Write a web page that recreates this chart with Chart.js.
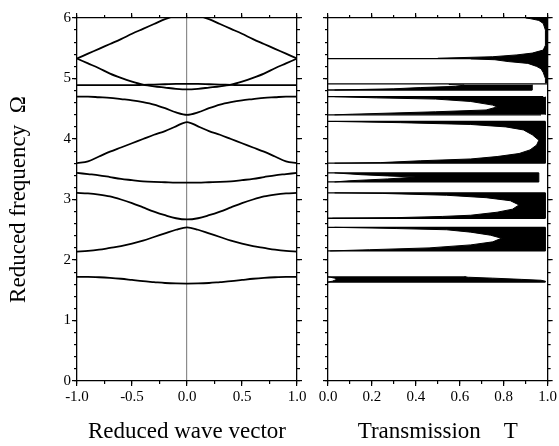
<!DOCTYPE html>
<html>
<head>
<meta charset="utf-8">
<script src="https://cdn.jsdelivr.net/npm/chart.js"></script>
<style>
  html, body { margin: 0; padding: 0; background: #fff; }
  #wrap { position: relative; width: 559px; height: 446px; }
  canvas { position: absolute; top: 0; }
  #bands { left: 0; }
  #trans { left: 312px; }
</style>
</head>
<body>
<div id="wrap">
  <canvas id="bands" width="312" height="446"></canvas>
  <canvas id="trans" width="247" height="446"></canvas>
</div>
<script>
// Reduced wave vector samples for the band structure
const kValues = [-1.0, -0.9, -0.8, -0.7, -0.6, -0.5, -0.4, -0.3, -0.2, -0.1, 0.0,
                 0.1, 0.2, 0.3, 0.4, 0.5, 0.6, 0.7, 0.8, 0.9, 1.0];

// Bands (reduced frequency), lowest first
const band1 = [1.72, 1.72, 1.715, 1.705, 1.69, 1.67, 1.65, 1.635, 1.62, 1.612, 1.61, 1.612, 1.62, 1.635, 1.65, 1.67, 1.69, 1.705, 1.715, 1.72, 1.72];
const band2 = [2.14, 2.15, 2.17, 2.20, 2.23, 2.27, 2.32, 2.38, 2.44, 2.50, 2.54, 2.50, 2.44, 2.38, 2.32, 2.27, 2.23, 2.20, 2.17, 2.15, 2.14];
const band3 = [3.11, 3.10, 3.08, 3.05, 3.00, 2.94, 2.87, 2.80, 2.74, 2.69, 2.67, 2.69, 2.74, 2.80, 2.87, 2.94, 3.00, 3.05, 3.08, 3.10, 3.11];
const band4 = [3.44, 3.42, 3.40, 3.37, 3.34, 3.32, 3.30, 3.29, 3.285, 3.28, 3.28, 3.28, 3.285, 3.29, 3.30, 3.32, 3.34, 3.37, 3.40, 3.42, 3.44];
const band5 = [3.60, 3.63, 3.71, 3.79, 3.86, 3.93, 4.00, 4.07, 4.13, 4.21, 4.28, 4.21, 4.13, 4.07, 4.00, 3.93, 3.86, 3.79, 3.71, 3.63, 3.60];
const band6 = [4.70, 4.70, 4.69, 4.68, 4.66, 4.64, 4.61, 4.57, 4.51, 4.44, 4.40, 4.44, 4.51, 4.57, 4.61, 4.64, 4.66, 4.68, 4.69, 4.70, 4.70];
const band7 = [4.89, 4.89, 4.89, 4.89, 4.89, 4.89, 4.895, 4.90, 4.905, 4.91, 4.91, 4.91, 4.905, 4.90, 4.895, 4.89, 4.89, 4.89, 4.89, 4.89, 4.89];
const band8 = [5.33, 5.25, 5.17, 5.08, 5.01, 4.95, 4.90, 4.87, 4.85, 4.83, 4.82, 4.83, 4.85, 4.87, 4.90, 4.95, 5.01, 5.08, 5.17, 5.25, 5.33];
const band9 = [5.33, 5.41, 5.49, 5.57, 5.65, 5.74, 5.82, 5.90, 5.98, 6.04, 6.07, 6.04, 5.98, 5.90, 5.82, 5.74, 5.65, 5.57, 5.49, 5.41, 5.33];
const bandSeries = [band1, band2, band3, band4, band5, band6, band7, band8, band9];

// Transmission: the fast oscillations fill the space between transLow and transHigh
// null = stop band (T = 0)
const transOmega = [
  1.635, 1.65, 1.665, 1.68, 1.70, 1.715, 1.72, 1.90,
  2.15, 2.17, 2.20, 2.25, 2.30, 2.36, 2.41, 2.46, 2.50, 2.52, 2.54, 2.60,
  2.69, 2.70, 2.72, 2.74, 2.79, 2.84, 2.91, 2.98, 3.03, 3.07, 3.10, 3.11, 3.20,
  3.29, 3.31, 3.34, 3.37, 3.39, 3.41, 3.44, 3.50,
  3.60, 3.61, 3.64, 3.67, 3.71, 3.76, 3.82, 3.90, 3.98, 4.07, 4.15, 4.20, 4.24, 4.27, 4.29, 4.35,
  4.40, 4.41, 4.45, 4.48, 4.53, 4.56, 4.62, 4.66, 4.68, 4.70, 4.76,
  4.81, 4.83, 4.85, 4.87, 4.89, 4.90, 4.905,
  4.92, 5.00, 5.10, 5.16, 5.20, 5.25, 5.28, 5.31, 5.325, 5.33,
  5.335, 5.36, 5.39, 5.42, 5.47, 5.55, 5.80, 5.91, 5.96, 5.99, 6.00
];
const transLow = [
  0.00, 0.02, 0.03, 0.04, 0.03, 0.01, 0.00, null,
  0.01, 0.19, 0.46, 0.65, 0.75, 0.79, 0.74, 0.65, 0.54, 0.31, 0.03, null,
  0.02, 0.31, 0.52, 0.65, 0.77, 0.84, 0.87, 0.83, 0.72, 0.54, 0.25, 0.03, null,
  0.03, 0.10, 0.27, 0.40, 0.27, 0.15, 0.03, null,
  0.03, 0.24, 0.42, 0.65, 0.77, 0.87, 0.92, 0.95, 0.96, 0.93, 0.89, 0.81, 0.65, 0.33, 0.03, null,
  0.03, 0.11, 0.49, 0.72, 0.77, 0.75, 0.65, 0.49, 0.22, 0.03, null,
  0.03, 0.30, 0.42, 0.58, 0.62, 0.55, null,
  0.99, 0.99, 0.98, 0.97, 0.95, 0.91, 0.82, 0.76, 0.65, null,
  0.50, 0.75, 0.86, 0.93, 0.98, 0.99, 0.99, 0.98, 0.96, 0.92, 0.90
];
const transHigh = [
  0.99, 0.99, 0.97, 0.88, 0.75, 0.64, 0.62, null,
  0.99, 0.99, 0.99, 0.99, 0.99, 0.99, 0.99, 0.99, 0.99, 0.99, 0.99, null,
  0.99, 0.99, 0.99, 0.99, 0.99, 0.99, 0.99, 0.99, 0.99, 0.99, 0.99, 0.99, null,
  0.96, 0.96, 0.96, 0.96, 0.96, 0.96, 0.96, null,
  0.99, 0.99, 0.99, 0.99, 0.99, 0.99, 0.99, 0.99, 0.99, 0.99, 0.99, 0.99, 0.99, 0.99, 0.99, null,
  0.99, 0.99, 0.99, 0.99, 0.99, 0.99, 0.99, 0.99, 0.99, 0.99, null,
  0.93, 0.93, 0.93, 0.93, 0.93, 0.93, null,
  1.0, 1.0, 1.0, 1.0, 1.0, 1.0, 1.0, 1.0, 1.0, null,
  1.0, 1.0, 1.0, 1.0, 1.0, 1.0, 1.0, 1.0, 1.0, 1.0, 1.0
];

// Band edges: sharp resonances running across the transmission panel
const edgeOmega = [1.635, 1.72, 2.15, 2.54, 2.69, 3.11, 3.29, 3.44, 3.60, 4.29, 4.40, 4.70, 4.81, 4.91, 5.33];
const edgeReach = [0.99, 0.63, 0.99, 0.99, 0.99, 0.99, 0.96, 0.96, 0.99, 0.99, 0.97, 0.98, 0.93, 1.0, 1.0];

Chart.defaults.font.family = "'Liberation Serif', 'DejaVu Serif', serif";
Chart.defaults.color = '#000';

// frame axis: only tick marks, squeezed to zero thickness
function tickAxis(axis, position, min, max, step, length, weight, extra) {
    return Object.assign({
        type: 'linear',
        axis: axis,
        position: position,
        min: min,
        max: max,
        weight: weight,
        ticks: { display: false, stepSize: step },
        grid: { drawOnChartArea: false, drawTicks: true, tickLength: length, color: '#000', tickColor: '#000', lineWidth: 1.2 },
        border: { display: length > 3, color: '#000', width: 1.3 },
        afterFit: s => { if (s.isHorizontal()) s.height = 0; else s.width = 0; }
    }, extra || {});
}

const tickFont = { size: 15 };
const titleFont = { size: 23 };

// Left panel: band structure
const bandDatasets = bandSeries.map(series => ({
    data: kValues.map((k, i) => ({ x: k, y: series[i] })),
    borderColor: '#000',
    borderWidth: 1.8,
    pointRadius: 0,
    fill: false,
    cubicInterpolationMode: 'monotone'
}));

new Chart(document.getElementById('bands'), {
    type: 'line',
    data: { datasets: bandDatasets },
    options: {
        responsive: false,
        animation: false,
        devicePixelRatio: 1,
        layout: { padding: { top: 18, right: 15, bottom: 0, left: 0 } },
        plugins: { legend: { display: false }, tooltip: { enabled: false } },
        scales: {
            x: tickAxis('x', 'bottom', -1, 1, 0.5, 5, 1, {
                ticks: { display: true, stepSize: 0.5, padding: 2, font: tickFont, maxRotation: 0,
                         callback: v => v.toFixed(1) },
                grid: { drawOnChartArea: true, drawTicks: true, tickLength: 5, lineWidth: 1.2, tickColor: '#000',
                        color: c => (c.tick && c.tick.value === 0) ? '#8c8c8c' : 'rgba(0,0,0,0)' },
                title: { display: true, text: 'Reduced wave vector', font: titleFont, padding: { top: 0, bottom: 0 } },
                afterFit: s => { s.height = 65; }
            }),
            y: tickAxis('y', 'left', 0, 6, 1, 5, 1, {
                ticks: { display: true, stepSize: 1, padding: 1, font: tickFont },
                title: { display: true, text: 'Reduced frequency  Ω', font: titleFont, padding: { top: 5, bottom: 0 } },
                afterFit: s => { s.width = 77; }
            }),
            xMinor: tickAxis('x', 'bottom', -1, 1, 0.25, 3, 0),
            xTop: tickAxis('x', 'top', -1, 1, 0.5, 5, 1),
            xTopMinor: tickAxis('x', 'top', -1, 1, 0.25, 3, 0),
            yMinor: tickAxis('y', 'left', 0, 6, 0.2, 3, 0),
            yRight: tickAxis('y', 'right', 0, 6, 1, 5, 1),
            yRightMinor: tickAxis('y', 'right', 0, 6, 0.2, 3, 0)
        }
    }
});

// Right panel: transmission
const edgePoints = edgeOmega.flatMap((w, i) => [
    { x: 0, y: w }, { x: edgeReach[i], y: w }, { x: null, y: null }
]);

new Chart(document.getElementById('trans'), {
    type: 'line',
    data: {
        datasets: [
            {
                data: transOmega.map((w, i) => ({ x: transLow[i], y: w })),
                indexAxis: 'y',
                borderColor: '#000',
                borderWidth: 1,
                backgroundColor: '#000',
                pointRadius: 0,
                fill: '+1'
            },
            {
                data: transOmega.map((w, i) => ({ x: transHigh[i], y: w })),
                indexAxis: 'y',
                borderColor: '#000',
                borderWidth: 1,
                pointRadius: 0,
                fill: false
            },
            {
                data: edgePoints,
                borderColor: '#000',
                borderWidth: 1.3,
                pointRadius: 0,
                fill: false
            }
        ]
    },
    options: {
        responsive: false,
        animation: false,
        devicePixelRatio: 1,
        layout: { padding: { top: 18, right: 11, bottom: 0, left: 0 } },
        plugins: { legend: { display: false }, tooltip: { enabled: false } },
        scales: {
            x: tickAxis('x', 'bottom', 0, 1, 0.2, 5, 1, {
                ticks: { display: true, stepSize: 0.2, padding: 2, font: tickFont, maxRotation: 0,
                         callback: v => v.toFixed(1) },
                title: { display: true, text: 'Transmission    T', font: titleFont, padding: { top: 0, bottom: 0 } },
                afterFit: s => { s.height = 65; }
            }),
            y: tickAxis('y', 'left', 0, 6, 1, 5, 1, {
                afterFit: s => { s.width = 16; }
            }),
            xMinor: tickAxis('x', 'bottom', 0, 1, 0.1, 3, 0),
            xTop: tickAxis('x', 'top', 0, 1, 0.2, 5, 1),
            xTopMinor: tickAxis('x', 'top', 0, 1, 0.1, 3, 0),
            yMinor: tickAxis('y', 'left', 0, 6, 0.2, 3, 0),
            yRight: tickAxis('y', 'right', 0, 6, 1, 5, 1),
            yRightMinor: tickAxis('y', 'right', 0, 6, 0.2, 3, 0)
        }
    }
});
</script>
</body>
</html>
